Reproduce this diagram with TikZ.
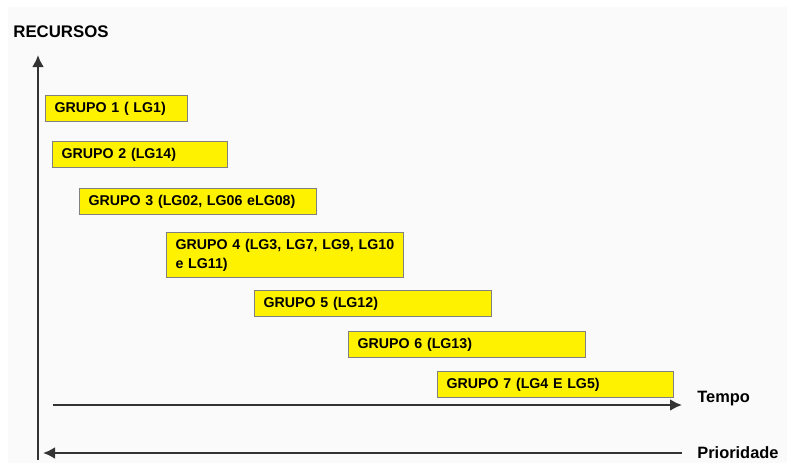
\documentclass[tikz,border=0pt]{standalone}
\usepackage{fontspec}
\setmainfont{Liberation Sans}
\usetikzlibrary{arrows.meta}

\tikzset{
  grupo/.style={draw=gray, line width=0.6pt, fill=yellow, anchor=north west,
    inner xsep=4.5pt, inner ysep=0pt, text width=#1, align=left,
    minimum height=13pt, font=\bfseries\fontsize{7.1}{9.5}\selectfont},
  eixo/.style={line width=1.4pt, black!80, -{Latex[length=6pt,width=6pt]}},
  rotulo/.style={font=\bfseries\fontsize{8.2}{10}\selectfont, anchor=west, inner sep=0pt}
}

\begin{document}
\begin{tikzpicture}[x=0.5pt, y=-0.5pt]
\useasboundingbox (0,0) rectangle (787,463);
\fill[black!2] (8,7) rectangle (787,463);

% eixos
\coordinate (base) at (38,460);
\coordinate (topo) at (38,55);
\coordinate (t0) at (53,405);
\coordinate (t1) at (682,405);
\coordinate (p0) at (682,453);
\coordinate (p1) at (43,453);
\draw[eixo] (base) -- (topo);
\draw[eixo] (t0) -- (t1);
\draw[eixo] (p0) -- (p1);

\node[font=\bfseries\fontsize{8.4}{10}\selectfont, anchor=west, inner sep=0pt] (recursos) at (13,32) {RECURSOS};
\node[rotulo] (tempo) at (697,399) {Tempo};
\node[rotulo] (prioridade) at (697,453) {Prioridade};

% grupos
\node[grupo=62pt] (g1) at (45,95) {GRUPO 1 ( LG1)};
\node[grupo=78.5pt] (g2) at (52,141) {GRUPO 2 (LG14)};
\node[grupo=109.5pt] (g3) at (79,188) {GRUPO 3 (LG02, LG06 eLG08)};
\node[grupo=109.5pt, minimum height=22.5pt] (g4) at (166,232) {GRUPO 4 (LG3, LG7, LG9, LG10\\e LG11)};
\node[grupo=109.5pt] (g5) at (254,290) {GRUPO 5 (LG12)};
\node[grupo=109.5pt] (g6) at (348,331) {GRUPO 6 (LG13)};
\node[grupo=109pt] (g7) at (437,371) {GRUPO 7 (LG4 E LG5)};
\end{tikzpicture}
\end{document}
